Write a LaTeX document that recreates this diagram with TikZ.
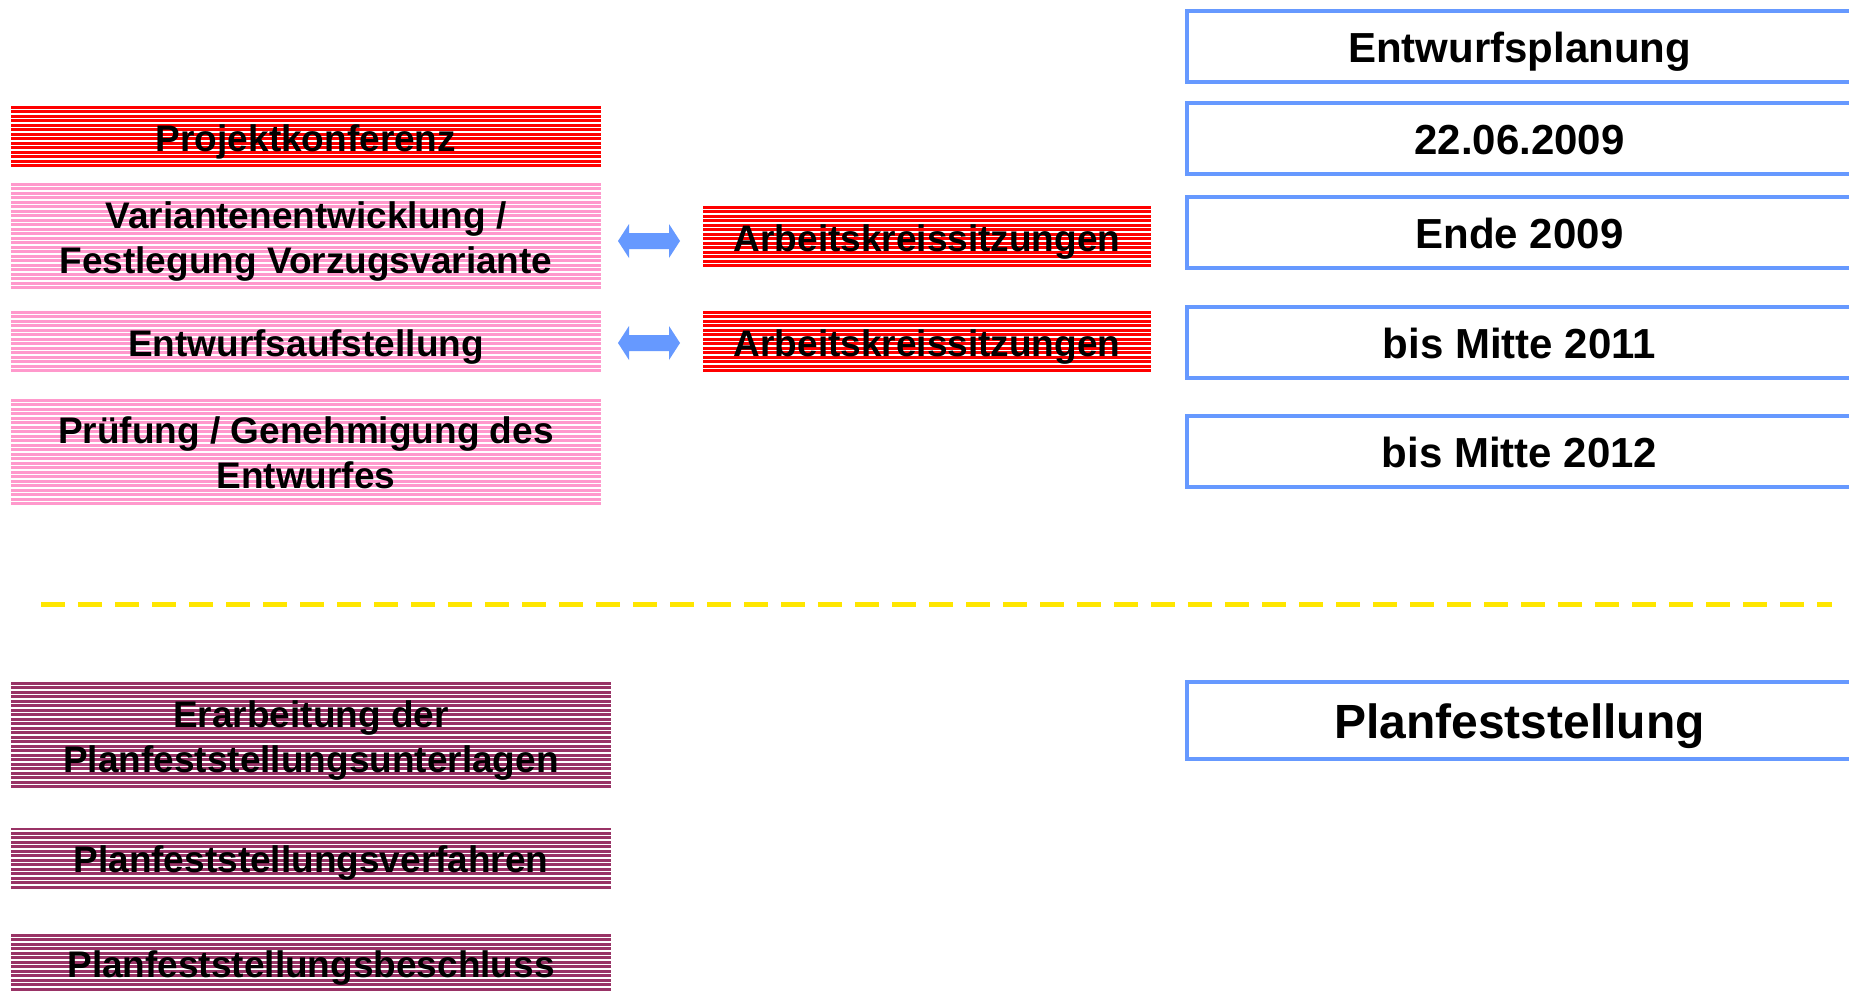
\documentclass[tikz,border=0pt]{standalone}
\usepackage{fontspec}
\setmainfont{Liberation Sans}
\definecolor{pred}{RGB}{255,0,0}
\definecolor{ppink}{RGB}{255,153,204}
\definecolor{ppurple}{RGB}{153,51,102}
\definecolor{pblue}{RGB}{102,153,255}
\definecolor{pyellow}{RGB}{255,230,0}
\newcommand{\mystrut}{\rule[-0.19em]{0pt}{1.16em}}
\tikzset{
  stripes/.style={path picture={
    \foreach \k in {0,...,30}{
      \draw[white,line width=1.1pt]
        ([yshift=-3.5pt-\k*4.5pt]path picture bounding box.north west) --
        ([yshift=-3.5pt-\k*4.5pt]path picture bounding box.north east);}}},
  bar/.style={rectangle, inner sep=0pt, outer sep=0pt, stripes, align=center,
    text=black, font=\bfseries\fontsize{37}{45}\selectfont,
    execute at begin node=\mystrut, execute at end node=\mystrut},
  redbar/.style={bar, fill=pred},
  pinkbar/.style={bar, fill=ppink, minimum width=590pt},
  purplebar/.style={bar, fill=ppurple, minimum width=600pt},
  datebox/.style={rectangle, draw=pblue, line width=4pt, fill=white, inner sep=0pt,
    minimum width=665pt, minimum height=71pt, align=center, text=black,
    font=\bfseries\fontsize{42}{50}\selectfont,
    execute at begin node=\mystrut, execute at end node=\mystrut},
  dblarrow/.style={fill=pblue, draw=none},
}
\begin{document}
\begin{tikzpicture}[x=1pt,y=-1pt]
\clip (0,0) rectangle (1849,991);
\fill[white] (0,0) rectangle (1849,991);

% left column
\node[redbar, minimum width=590pt, minimum height=62pt] (pk) at (306,137) {Projektkonferenz};
\node[pinkbar, minimum height=107pt] (var) at (306,236.5) {\mystrut Variantenentwicklung /\\Festlegung Vorzugsvariante\mystrut};
\node[pinkbar, minimum height=62pt] (ent) at (306,342) {Entwurfsaufstellung};
\node[pinkbar, minimum height=106pt] (pru) at (306,452) {\mystrut Prüfung / Genehmigung des\\Entwurfes\mystrut};

% Arbeitskreissitzungen
\node[redbar, minimum width=448pt, minimum height=62pt] (ak1) at (927,237) {Arbeitskreissitzungen};
\node[redbar, minimum width=448pt, minimum height=62pt] (ak2) at (927,342) {Arbeitskreissitzungen};

% double arrows
\foreach \cy in {241,343}{
  \fill[dblarrow] (618,\cy) -- (629,\cy-17) -- (629,\cy-8) -- (669,\cy-8) -- (669,\cy-17)
    -- (680,\cy) -- (669,\cy+17) -- (669,\cy+8) -- (629,\cy+8) -- (629,\cy+17) -- cycle;
}

% right column
\node[datebox, minimum height=71pt] (ep) at (1519.5,46.5) {Entwurfsplanung};
\node[datebox] (d1) at (1519.5,138.5) {22.06.2009};
\node[datebox] (d2) at (1519.5,232) {Ende 2009};
\node[datebox] (d3) at (1519.5,342) {bis Mitte 2011};
\node[datebox] (d4) at (1519.5,451.5) {bis Mitte 2012};

% separator
\draw[pyellow, line width=5pt, dash pattern=on 24pt off 13pt] (41,604) -- (1832,604);

% lower part
\node[purplebar, minimum height=107pt] (era) at (311,735.5) {\mystrut Erarbeitung der\\Planfeststellungsunterlagen\mystrut};
\node[purplebar, minimum height=62pt] (pfv) at (311,858.5) {Planfeststellungsverfahren};
\node[purplebar, minimum height=58pt] (pfb) at (311,963) {Planfeststellungsbeschluss};

\node[datebox, minimum height=77pt, font=\bfseries\fontsize{48}{56}\selectfont] (pf) at (1519.5,720.5) {Planfeststellung};
\end{tikzpicture}
\end{document}
